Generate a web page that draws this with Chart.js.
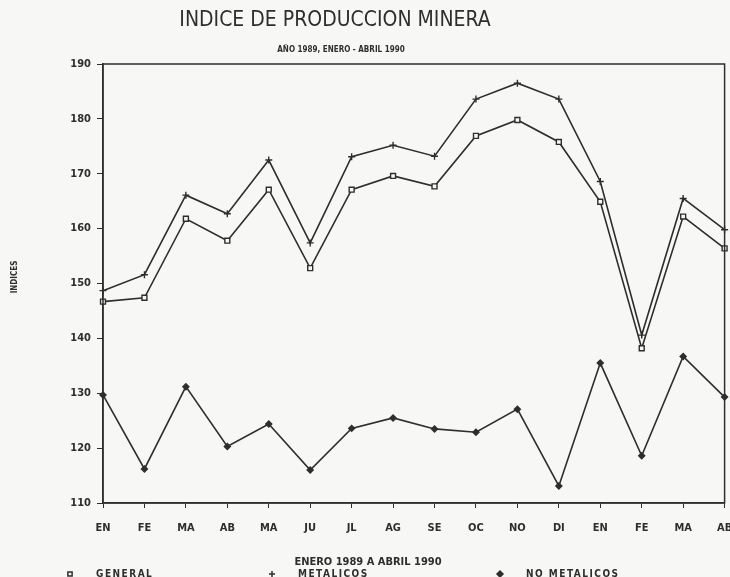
<!DOCTYPE html>
<html lang="es">
<head>
<meta charset="utf-8">
<title>Indice de Produccion Minera</title>
<script src="https://cdn.jsdelivr.net/npm/chart.js@4/dist/chart.umd.min.js"></script>
<style>
  html, body { margin: 0; padding: 0; background: #f7f8f5; }
  canvas { display: block; }
</style>
</head>
<body>
<canvas id="myChart" width="730" height="577"></canvas>
<script>
const meses = ['EN', 'FE', 'MA', 'AB', 'MA', 'JU', 'JL', 'AG', 'SE', 'OC', 'NO', 'DI', 'EN', 'FE', 'MA', 'AB'];
const general = [146.7, 147.4, 161.8, 157.8, 167.1, 152.8, 167.1, 169.6, 167.7, 176.9, 179.8, 175.8, 164.9, 138.2, 162.2, 156.4];
const metalicos = [148.7, 151.6, 166.1, 162.7, 172.5, 157.4, 173.1, 175.2, 173.2, 183.6, 186.5, 183.6, 168.6, 140.6, 165.5, 159.8];
const noMetalicos = [129.7, 116.2, 131.2, 120.3, 124.4, 116.0, 123.6, 125.5, 123.5, 122.9, 127.1, 113.1, 135.5, 118.6, 136.7, 129.3];
const yMin = 110;
const yMax = 190;
const yPaso = 10;

const titulo = 'INDICE DE PRODUCCION MINERA';
const subtitulo = 'AÑO 1989, ENERO - ABRIL 1990';
const tituloX = 'ENERO 1989 A ABRIL 1990';
const tituloY = 'INDICES';

const tinta = '#2e2e2e';
const fondo = '#f7f8f5';
const fuente = "'Liberation Sans Narrow', 'DejaVu Sans Condensed', 'Liberation Sans', sans-serif";

// ---------- Textos y marco ----------

const textos = {
  id: 'textos',
  afterDraw(chart) {
    const ctx = chart.ctx;
    const area = chart.chartArea;
    ctx.save();

    // marco del grafico
    ctx.strokeStyle = tinta;
    ctx.lineWidth = 1.5;
    ctx.strokeRect(area.left, area.top, area.right - area.left, area.bottom - area.top);

    ctx.fillStyle = tinta;
    ctx.textAlign = 'center';
    ctx.textBaseline = 'middle';

    ctx.font = '21px ' + fuente;
    ctx.fillText(titulo, 335, 21);

    ctx.font = 'bold 8px ' + fuente;
    ctx.fillText(subtitulo, 341, 50);

    ctx.font = 'bold 11px ' + fuente;
    ctx.fillText(tituloX, 368, 562);

    ctx.save();
    ctx.translate(15, 277);
    ctx.rotate(-Math.PI / 2);
    ctx.font = 'bold 8px ' + fuente;
    ctx.fillText(tituloY, 0, 0);
    ctx.restore();

    // leyenda
    const leyendaX = [70, 272, 500];
    ctx.textAlign = 'left';
    ctx.font = 'bold 10px ' + fuente;
    ctx.letterSpacing = '1.5px';
    chart.data.datasets.forEach((ds, i) => {
      const x = leyendaX[i];
      ctx.strokeStyle = tinta;
      ctx.fillStyle = ds.pointBackgroundColor;
      Chart.helpers.drawPoint(ctx, {
        pointStyle: ds.pointStyle,
        radius: 3,
        borderWidth: 1.3
      }, x, 574);
      ctx.fillStyle = tinta;
      ctx.fillText(ds.label, x + 26, 574);
    });

    ctx.restore();
  }
};

// ---------- Grafica ----------

function serie(label, datos, estilo, relleno, radio) {
  return {
    label: label,
    data: datos,
    borderColor: tinta,
    borderWidth: 1.6,
    tension: 0,
    pointStyle: estilo,
    pointRadius: radio,
    pointBorderWidth: 1.4,
    pointBorderColor: tinta,
    pointBackgroundColor: relleno
  };
}

const ctx = document.getElementById('myChart').getContext('2d');

const grafica = new Chart(ctx, {
  type: 'line',
  data: {
    labels: meses,
    datasets: [
      serie('GENERAL', general, 'rect', fondo, 3.5),
      serie('METALICOS', metalicos, 'cross', tinta, 3.5),
      serie('NO METALICOS', noMetalicos, 'rectRot', tinta, 3)
    ]
  },
  options: {
    responsive: false,
    animation: false,
    layout: {
      padding: { top: 64, right: 5, left: 0, bottom: 0 }
    },
    scales: {
      x: {
        offset: false,
        grid: { drawOnChartArea: false, drawTicks: true, tickLength: 5, color: tinta },
        border: { display: true, color: tinta, width: 1.5 },
        ticks: {
          color: tinta,
          font: { family: fuente, size: 11, weight: 'bold' },
          padding: 14,
          maxRotation: 0,
          autoSkip: false
        },
        afterFit(scale) {
          scale.height = 577 - 503;
          scale.paddingLeft = 0;
          scale.paddingRight = 0;
        }
      },
      y: {
        min: yMin,
        max: yMax,
        grid: { drawOnChartArea: false, drawTicks: true, tickLength: 6, color: tinta },
        border: { display: true, color: tinta, width: 1.5 },
        ticks: {
          stepSize: yPaso,
          color: tinta,
          font: { family: fuente, size: 11, weight: 'bold' },
          padding: 6
        },
        afterFit(scale) { scale.width = 103; }
      }
    },
    plugins: {
      legend: { display: false },
      title: { display: false },
      tooltip: { enabled: false }
    }
  },
  plugins: [textos]
});
</script>
</body>
</html>
